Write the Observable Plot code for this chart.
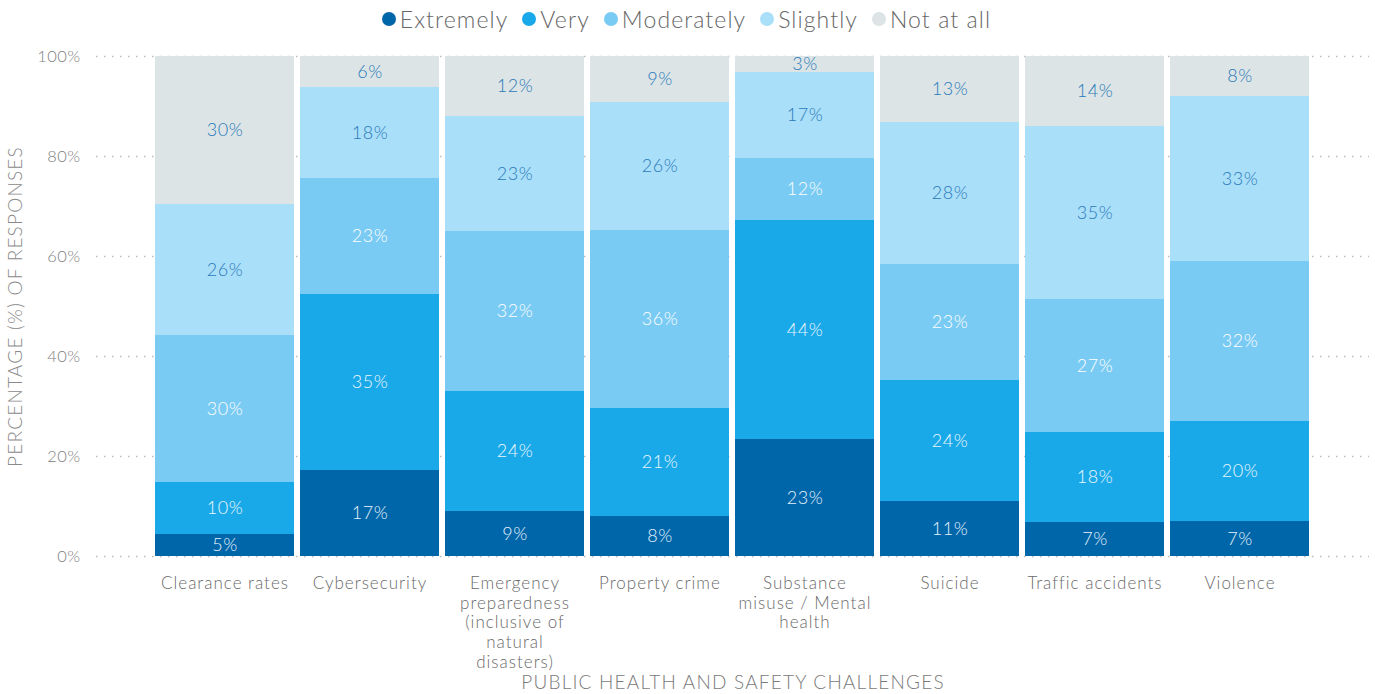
<!DOCTYPE html>
<html>
<head>
<meta charset="utf-8">
<script src="https://cdn.jsdelivr.net/npm/d3@7"></script>
<script src="https://cdn.jsdelivr.net/npm/@observablehq/plot@0.6"></script>
<style>
  html, body { margin: 0; padding: 0; background: #fff; }
  body { width: 1375px; height: 694px; position: relative; overflow: hidden; font-family: Lato, sans-serif; font-weight: 300; }
  #legend { position: absolute; top: 5px; left: -1px; width: 1375px; display: flex; justify-content: center; align-items: center; gap: 14px; font-size: 23px; letter-spacing: 1.1px; color: #666; }
  #legend .item { display: flex; align-items: center; gap: 4px; }
  #legend .dot { width: 14px; height: 14px; border-radius: 50%; display: inline-block; }
  #chart { position: absolute; top: 0; left: 0; }
</style>
</head>
<body>
<div id="legend"></div>
<div id="chart"></div>
<script>
const categories = ["Clearance rates", "Cybersecurity", "Emergency preparedness (inclusive of natural disasters)", "Property crime", "Substance misuse / Mental health", "Suicide", "Traffic accidents", "Violence"];
const categoryLabels = ["Clearance rates", "Cybersecurity", "Emergency\npreparedness\n(inclusive of\nnatural\ndisasters)", "Property crime", "Substance\nmisuse / Mental\nhealth", "Suicide", "Traffic accidents", "Violence"];
const levels = ["Extremely", "Very", "Moderately", "Slightly", "Not at all"];
const colors = ["#0066aa", "#1aa9e8", "#7acbf3", "#aadff9", "#dce4e6"];
const textColors = ["#e4f2fb", "#eaf6fd", "#ffffff", "#2a7ab9", "#2a7ab9"];

// segment sizes (%) per category, in order of levels
const extremely  = [4.4, 17.2, 9.0, 8.0, 23.4, 11.0, 6.8, 7.0];
const very       = [10.4, 35.2, 24.0, 21.6, 43.8, 24.2, 18.0, 20.0];
const moderately = [29.4, 23.2, 32.0, 35.6, 12.4, 23.2, 26.6, 32.0];
const slightly   = [26.2, 18.2, 23.0, 25.6, 17.2, 28.4, 34.6, 33.0];
const notAtAll   = [29.6, 6.2, 12.0, 9.2, 3.2, 13.2, 14.0, 8.0];

// printed labels (%)
const extremelyLabels  = [5, 17, 9, 8, 23, 11, 7, 7];
const veryLabels       = [10, 35, 24, 21, 44, 24, 18, 20];
const moderatelyLabels = [30, 23, 32, 36, 12, 23, 27, 32];
const slightlyLabels   = [26, 18, 23, 26, 17, 28, 35, 33];
const notAtAllLabels   = [30, 6, 12, 9, 3, 13, 14, 8];

const yTicks = [0, 20, 40, 60, 80, 100];

const series = [extremely, very, moderately, slightly, notAtAll];
const seriesLabels = [extremelyLabels, veryLabels, moderatelyLabels, slightlyLabels, notAtAllLabels];

const data = [];
categories.forEach((c, i) => {
  levels.forEach((l, j) => {
    data.push({category: c, level: l, value: series[j][i], label: seriesLabels[j][i] + "%", textColor: textColors[j]});
  });
});

// legend
const legend = document.getElementById("legend");
levels.forEach((l, j) => {
  const item = document.createElement("div");
  item.className = "item";
  const dot = document.createElement("span");
  dot.className = "dot";
  dot.style.background = colors[j];
  const t = document.createElement("span");
  t.textContent = l;
  item.appendChild(dot);
  item.appendChild(t);
  legend.appendChild(item);
});

const chart = Plot.plot({
  width: 1375,
  height: 694,
  marginTop: 56,
  marginBottom: 138,
  marginLeft: 96,
  marginRight: 6,
  style: {fontFamily: "Lato, sans-serif", fontWeight: 300, fontSize: "16px", color: "#777", background: "transparent"},
  x: {domain: categories, paddingInner: 0.038, paddingOuter: 0.39, axis: null},
  y: {domain: [0, 100], axis: null},
  color: {domain: levels, range: colors},
  marks: [
    Plot.gridY(yTicks, {stroke: "#bdbdbd", strokeOpacity: 1, strokeDasharray: "1.5,6.5", strokeWidth: 1.3}),
    Plot.barY(data, {x: "category", y: "value", fill: "level"}),
    Plot.text(data, Plot.stackY({x: "category", y: "value", z: "level", text: "label", fill: "textColor", fontSize: 18, fontWeight: 300})),
    Plot.axisY(yTicks, {tickSize: 0, tickPadding: 16, tickFormat: d => d + "%", fontSize: 16.5, fill: "#808080", label: null}),
    Plot.text(categories, {x: d => d, y: () => 0, text: (d, i) => categoryLabels[i], lineAnchor: "top", dy: 18, lineHeight: 1.17, fontSize: 17, fill: "#6a6a6a"}),
    Plot.text(["PUBLIC HEALTH AND SAFETY CHALLENGES"], {frameAnchor: "bottom", dy: 132, fontSize: 19, fill: "#7a7a7a"}),
    Plot.text(["PERCENTAGE (%) OF RESPONSES"], {frameAnchor: "left", textAnchor: "middle", rotate: -90, dx: -81, fontSize: 19, fill: "#8a8a8a"})
  ]
});
// letter spacing to approximate the wide geometric typeface of the original
const textGroups = chart.querySelectorAll('g[aria-label="text"]');
const spacings = ["0.5px", "1px", "1.2px", "1.2px"];
textGroups.forEach((g, i) => { if (spacings[i]) g.style.letterSpacing = spacings[i]; });
const yAxisG = chart.querySelector('g[aria-label="y-axis tick label"]');
if (yAxisG) yAxisG.style.letterSpacing = "0.4px";
document.getElementById("chart").appendChild(chart);
</script>
</body>
</html>
